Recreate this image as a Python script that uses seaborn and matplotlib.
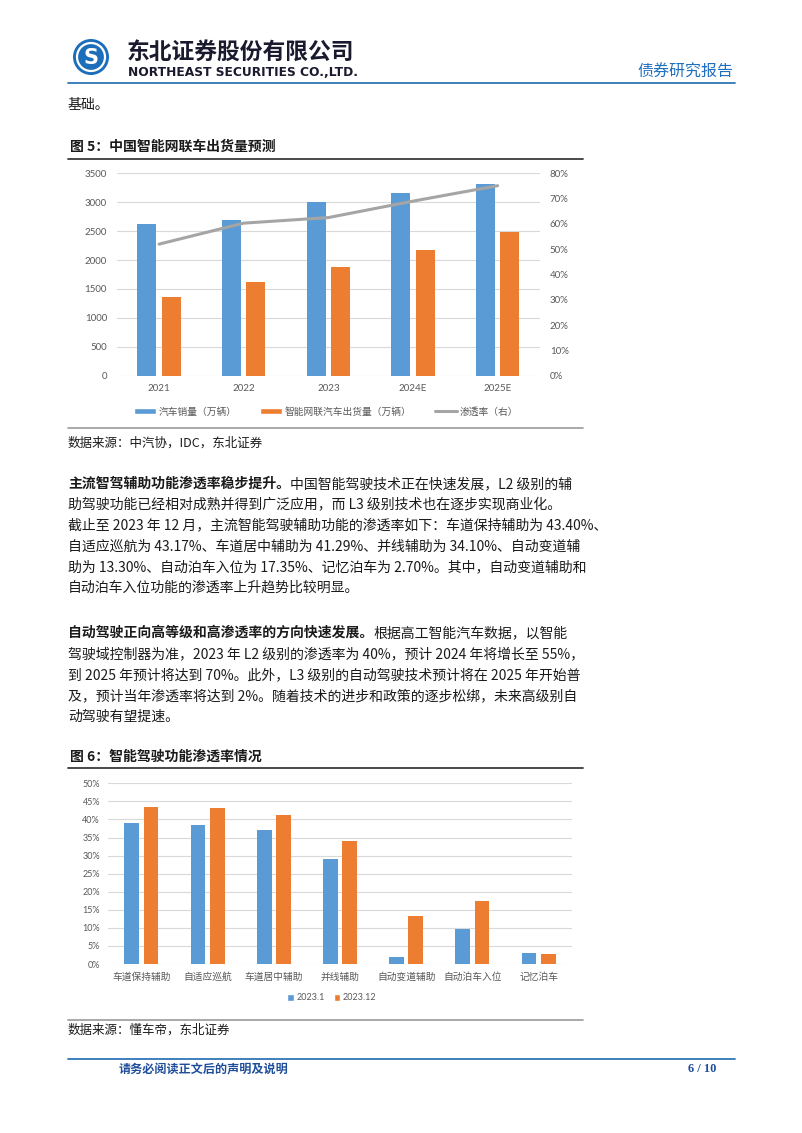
import numpy as np
import pandas as pd
import matplotlib
matplotlib.use("Agg")
import matplotlib.pyplot as plt
import seaborn as sns
from matplotlib.patches import Patch, Ellipse
from matplotlib.lines import Line2D
from matplotlib.ticker import PercentFormatter

# ---------------- data ----------------
years = ["2021", "2022", "2023", "2024E", "2025E"]
car_sales = [2627, 2686, 3009, 3160, 3315]
icv_shipments = [1367, 1620, 1880, 2180, 2491]
penetration = [0.520, 0.603, 0.625, 0.690, 0.751]
series1 = ["汽车销量（万辆）", "智能网联汽车出货量（万辆）"]
line_label = "渗透率（右）"

features = ["车道保持辅助", "自适应巡航", "车道居中辅助", "并线辅助",
            "自动变道辅助", "自动泊车入位", "记忆泊车"]
rate_2023_01 = [0.389, 0.384, 0.371, 0.290, 0.019, 0.097, 0.030]
rate_2023_12 = [0.4340, 0.4317, 0.4129, 0.3410, 0.1330, 0.1735, 0.0270]
series2 = ["2023.1", "2023.12"]

# ---------------- style ----------------
sns.set_theme(style="white")
plt.rcParams["font.family"] = ["Noto Sans CJK SC", "DejaVu Sans"]

BLUE = "#5B9BD5"
ORANGE = "#ED7D31"
GRAY = "#A5A5A5"
TICK = "#595959"
GRID = "#D9D9D9"
TXT = "#1a1a1a"
HBLUE = "#2E75B6"
NUM_FONT = ["Lato", "DejaVu Sans"]

W, H = 802, 1133
fig = plt.figure(figsize=(W / 100, H / 100), dpi=100)
renderer = fig.canvas.get_renderer()


def fx(x):
    return x / W


def fy(y):
    return 1 - y / H


def ax_rect(l, t, r, b):
    return [l / W, 1 - b / H, (r - l) / W, (b - t) / H]


def hline(x0, x1, y, color, lw):
    fig.add_artist(Line2D([fx(x0), fx(x1)], [fy(y), fy(y)], color=color, lw=lw,
                          transform=fig.transFigure))


def rich_line(x, y, parts, size=10, color=TXT):
    cur = x
    for s, weight in parts:
        t = fig.text(fx(cur), fy(y), s, fontsize=size, fontweight=weight,
                     va="center", ha="left", color=color)
        cur += t.get_window_extent(renderer=renderer).width


# ---------------- header ----------------
fig.add_artist(Ellipse((fx(91), fy(57)), 36 / W, 36 / H, facecolor="#1C6DBA",
                       edgecolor="none", transform=fig.transFigure))
fig.add_artist(Ellipse((fx(91), fy(57)), 28 / W, 28 / H, facecolor="none",
                       edgecolor="white", lw=1.6, transform=fig.transFigure))
fig.text(fx(91), fy(57.5), "S", fontsize=15, fontweight="bold", color="white",
         ha="center", va="center", family=["DejaVu Sans"])
fig.text(fx(127), fy(52), "东北证券股份有限公司", fontsize=16.4, fontweight="bold",
         color="#1a1a2e", ha="left", va="center")
fig.text(fx(128), fy(72), "NORTHEAST SECURITIES CO.,LTD.", fontsize=8.8,
         fontweight="bold", color="#1a1a2e", ha="left", va="center",
         family=["DejaVu Sans"])
fig.text(fx(733), fy(72), "债券研究报告", fontsize=11.5, color="#1F6FC0",
         ha="right", va="center")
hline(68, 735, 82.5, HBLUE, 1.3)

fig.text(fx(68), fy(105), "基础。", fontsize=10, color=TXT, ha="left", va="center")

# ---------------- figure 5 ----------------
fig.text(fx(70), fy(147), "图 5：中国智能网联车出货量预测", fontsize=10,
         fontweight="bold", color=TXT, ha="left", va="center")
hline(68, 583, 158.5, "#3a3a3a", 1.3)

ax1 = fig.add_axes(ax_rect(116.7, 173.3, 540, 375.7))
df1 = pd.DataFrame({
    "year": years * 2,
    "value": car_sales + icv_shipments,
    "series": [series1[0]] * len(years) + [series1[1]] * len(years),
})
sns.barplot(data=df1, x="year", y="value", hue="series", palette=[BLUE, ORANGE],
            saturation=1, width=0.57, gap=0.21, linewidth=0, legend=False, ax=ax1)
ax1.set_xlim(-0.5, len(years) - 0.5)
ax1.set_ylim(0, 3500)
ax1.set_yticks(np.arange(0, 3501, 500))
ax1.set_xticks(range(len(years)), years)
ax1.set_xlabel("")
ax1.set_ylabel("")
ax1.grid(axis="y", color=GRID, lw=0.8)
ax1.set_axisbelow(True)
sns.despine(ax=ax1, left=True, bottom=True)
ax1.tick_params(axis="y", length=0, pad=7, labelsize=7, labelcolor=TICK)
ax1.tick_params(axis="x", length=0, pad=6, labelsize=7, labelcolor=TICK)
for lab in ax1.get_yticklabels() + ax1.get_xticklabels():
    lab.set_fontfamily(NUM_FONT)

ax2 = ax1.twinx()
sns.lineplot(x=np.arange(len(years)), y=penetration, color=GRAY, lw=2.2,
             sort=False, ax=ax2)
ax2.set_ylim(0, 0.8)
ax2.set_yticks(np.arange(0, 0.81, 0.1))
ax2.yaxis.set_major_formatter(PercentFormatter(1.0, decimals=0))
ax2.set_ylabel("")
ax2.grid(False)
for sp in ax2.spines.values():
    sp.set_visible(False)
ax2.tick_params(axis="y", length=0, pad=7, labelsize=7, labelcolor=TICK)
for lab in ax2.get_yticklabels():
    lab.set_fontfamily(NUM_FONT)
ax1.set_xticks(range(len(years)), years)
for lab in ax1.get_xticklabels():
    lab.set_fontfamily(NUM_FONT)

h1 = [Patch(facecolor=BLUE), Patch(facecolor=ORANGE),
      Line2D([], [], color=GRAY, lw=2.2)]
fig.legend(h1, series1 + [line_label], loc="center",
           bbox_to_anchor=(fx(326), fy(411.5)), ncol=3, frameon=False,
           fontsize=7, handlelength=2.25, handleheight=0.5, handletextpad=0.2,
           columnspacing=2.5, labelcolor=TICK, borderpad=0)
hline(68, 583, 428, "#9a9a9a", 1.2)

fig.text(fx(68), fy(443), "数据来源：中汽协，IDC，东北证券", fontsize=9,
         color=TXT, ha="left", va="center")

# ---------------- paragraph 1 ----------------
para1 = [
    [("主流智驾辅助功能渗透率稳步提升。", "bold"), ("中国智能驾驶技术正在快速发展，L2 级别的辅", "normal")],
    [("助驾驶功能已经相对成熟并得到广泛应用，而 L3 级别技术也在逐步实现商业化。", "normal")],
    [("截止至 2023 年 12 月，主流智能驾驶辅助功能的渗透率如下：车道保持辅助为 43.40%、", "normal")],
    [("自适应巡航为 43.17%、车道居中辅助为 41.29%、并线辅助为 34.10%、自动变道辅", "normal")],
    [("助为 13.30%、自动泊车入位为 17.35%、记忆泊车为 2.70%。其中，自动变道辅助和", "normal")],
    [("自动泊车入位功能的渗透率上升趋势比较明显。", "normal")],
]
for i, parts in enumerate(para1):
    rich_line(68, 484 + i * 20.8, parts, size=10)

para2 = [
    [("自动驾驶正向高等级和高渗透率的方向快速发展。", "bold"), ("根据高工智能汽车数据，以智能", "normal")],
    [("驾驶域控制器为准，2023 年 L2 级别的渗透率为 40%，预计 2024 年将增长至 55%，", "normal")],
    [("到 2025 年预计将达到 70%。此外，L3 级别的自动驾驶技术预计将在 2025 年开始普", "normal")],
    [("及，预计当年渗透率将达到 2%。随着技术的进步和政策的逐步松绑，未来高级别自", "normal")],
    [("动驾驶有望提速。", "normal")],
]
for i, parts in enumerate(para2):
    rich_line(68, 633 + i * 21, parts, size=10)

# ---------------- figure 6 ----------------
fig.text(fx(70), fy(757), "图 6：智能驾驶功能渗透率情况", fontsize=10,
         fontweight="bold", color=TXT, ha="left", va="center")
hline(68, 583, 767.5, "#3a3a3a", 1.3)

ax3 = fig.add_axes(ax_rect(108.3, 783.3, 571.7, 964))
df2 = pd.DataFrame({
    "feature": features * 2,
    "rate": rate_2023_01 + rate_2023_12,
    "period": [series2[0]] * len(features) + [series2[1]] * len(features),
})
sns.barplot(data=df2, x="feature", y="rate", hue="period", palette=[BLUE, ORANGE],
            saturation=1, width=0.58, gap=0.22, linewidth=0, legend=False, ax=ax3)
ax3.set_xlim(-0.5, len(features) - 0.5)
ax3.set_ylim(0, 0.5)
ax3.set_yticks(np.arange(0, 0.501, 0.05))
ax3.yaxis.set_major_formatter(PercentFormatter(1.0, decimals=0))
ax3.set_xlabel("")
ax3.set_ylabel("")
ax3.grid(axis="y", color=GRID, lw=0.8)
ax3.set_axisbelow(True)
sns.despine(ax=ax3, left=True, bottom=True)
ax3.tick_params(axis="y", length=0, pad=6, labelsize=6.5, labelcolor=TICK)
ax3.tick_params(axis="x", length=0, pad=5.5, labelsize=7, labelcolor=TICK)
for lab in ax3.get_yticklabels():
    lab.set_fontfamily(NUM_FONT)

h2 = [Patch(facecolor=BLUE), Patch(facecolor=ORANGE)]
leg2 = fig.legend(h2, series2, loc="center", bbox_to_anchor=(fx(332), fy(998)),
                  ncol=2, frameon=False, fontsize=6.5, handlelength=0.7,
                  handleheight=0.7, handletextpad=0.3, columnspacing=1.0,
                  labelcolor=TICK, borderpad=0)
for t in leg2.get_texts():
    t.set_fontfamily(NUM_FONT)
hline(68, 583, 1019.5, "#9a9a9a", 1.2)

fig.text(fx(68), fy(1030), "数据来源：懂车帝，东北证券", fontsize=9,
         color=TXT, ha="left", va="center")

# ---------------- footer ----------------
hline(68, 735, 1059, HBLUE, 1.3)
fig.text(fx(119), fy(1069), "请务必阅读正文后的声明及说明", fontsize=8.7,
         fontweight="bold", color="#1F4E9A", ha="left", va="center")
fig.text(fx(716), fy(1069), "6 / 10", fontsize=9, fontweight="bold",
         color="#1F4E9A", ha="right", va="center",
         family=["Liberation Serif", "DejaVu Serif"])

fig.savefig("out.png", dpi=100)
